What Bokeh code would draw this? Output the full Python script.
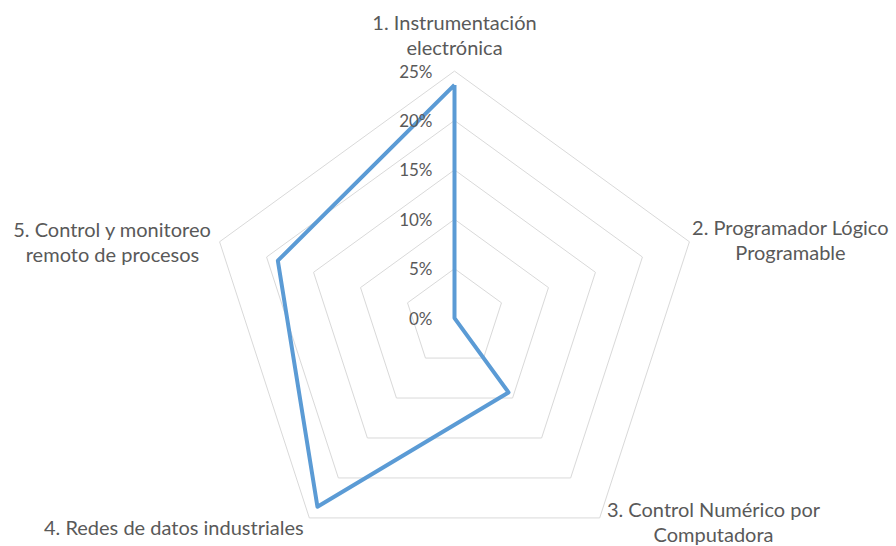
import numpy as np
from bokeh.plotting import figure
from bokeh.models import Range1d
from bokeh.core.properties import value
from bokeh.embed import file_html
from bokeh.resources import INLINE

# ---- data ----
categories = [
    ["1. Instrumentación", "electrónica"],
    ["2. Programador Lógico", "Programable"],
    ["3. Control Numérico por", "Computadora"],
    ["4. Redes de datos industriales"],
    ["5. Control y monitoreo", "remoto de procesos"],
]
series_values = [0.236, 0.0, 0.093, 0.236, 0.188]
tick_values = [0.0, 0.05, 0.10, 0.15, 0.20, 0.25]
tick_labels = ["0%", "5%", "10%", "15%", "20%", "25%"]

# ---- layout ----
W, H = 896, 546
OX, OY = 0, 0          # canvas origin on the page
R = 247.0              # pixel radius of the 25% ring
VMAX = 0.25
CX, CY = 454.0, 317.6  # centre in page pixels
FONT = "Lato"
TXT = "#595959"

p = figure(width=W, height=H, output_backend="svg", toolbar_location=None,
           x_range=Range1d(OX - CX, OX + W - CX), y_range=Range1d(CY - OY - H, CY - OY),
           min_border=0)
p.axis.visible = False
p.grid.visible = False
p.outline_line_color = None
p.background_fill_color = "white"
p.border_fill_color = "white"

n = len(series_values)
ang = np.arange(n) * 2 * np.pi / n

def pt(v, a):
    r = v / VMAX * R
    return r * np.sin(a), r * np.cos(a)

# grid rings
for tv in tick_values[1:]:
    xs, ys = pt(tv, np.append(ang, ang[0]))
    p.line(list(xs), list(ys), line_color="#d9d9d9", line_width=1)

# data series
vals = np.array(series_values + [series_values[0]])
xs, ys = pt(vals, np.append(ang, ang[0]))
p.line(list(xs), list(ys), line_color="#5B9BD5", line_width=4, line_join="round")

# tick labels
ty = [tv / VMAX * R for tv in tick_values]
p.text(x=[-22] * len(ty), y=ty, text=tick_labels, text_align="right",
       text_baseline="middle", text_font=value(FONT), text_font_size="17px",
       text_color=TXT)

# category labels (anchor offsets from the centre, in pixels)
label_pos = [(0, 296.6), (336, 90.9), (259, -190.4), (-280.7, -209.1), (-342, 89.6)]
lx, ly, lt = [], [], []
for (x0, y0), lines in zip(label_pos, categories):
    for i, s in enumerate(lines):
        lx.append(x0)
        ly.append(y0 - i * 25.0)
        lt.append(s)
p.text(x=lx, y=ly, text=lt, text_align="center", text_baseline="middle",
       text_font=value(FONT), text_font_size="20px", text_color=TXT)

open("out.html", "w").write(file_html(p, INLINE))
